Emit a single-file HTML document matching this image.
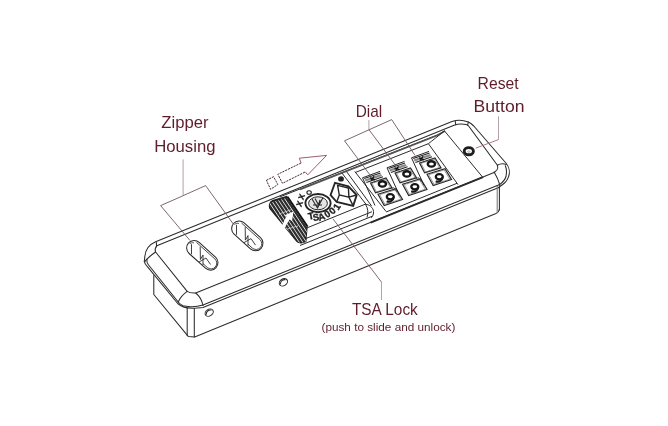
<!DOCTYPE html>
<html><head><meta charset="utf-8">
<style>
html,body{margin:0;padding:0;background:#fff;width:668px;height:426px;overflow:hidden}
svg{display:block;will-change:transform}
text{font-family:"Liberation Sans",sans-serif}
.lbl text{fill:#5f1c2b}
</style></head><body>
<svg width="668" height="426" viewBox="0 0 668 426">
<g fill="none" stroke="#2b2b2b" stroke-width="1.05" stroke-linejoin="round" stroke-linecap="round">
<path d="M144.3,261.3 L144.8,256.5 C145.3,250 149.5,244.5 155.6,241.8 L452,121.5 C457,119.8 463,119.9 468.3,122 C470.5,123 472,124.3 473.8,126 L506.3,163.5 C509.5,167.5 510,173 508.6,176.6 C507.5,179.5 506.5,181 505.4,182.2 C503.5,184.3 501,185.2 498.8,187.6"/>
<path d="M499.7,184.6 L203,305.0 C198,306.5 193,306.9 190.4,306.7 C187,306.4 184.5,306 183,305.7 C181,304.6 179.5,303.5 178.2,302 L148.2,264.5 C147,263 146.5,261.5 147,259.5"/>
<path d="M498.8,187.6 L203,307.5 C199,308 195,308.4 192.5,308.3 C186,308.2 181,306.5 177.7,303.5 L147.4,266.6 C145.8,265 144.6,263.2 144.3,261.3"/>
<path d="M156.8,245.8 L454,125.2 C458,123.8 462.5,123.6 466,124.6 C467.5,125 468.3,125.6 468.8,126.3 L497.4,165.3 C498,167 497.8,169 496.9,170 C496,171 495,171.6 494.1,172.6 L195.7,293 C192,293.2 189,292.8 187.2,291.4 L155.6,252 C154.8,250 155.3,247.5 156.8,245.8"/>
<path d="M156.3,242.2 L156.6,246"/>
<path d="M155.6,252 C152,254.5 148,257.5 145,261.3"/>
<path d="M187.2,291.4 C183.5,294 180,298 178.2,302"/>
<path d="M195.7,293 C199.5,296 202,300.5 203,305.5"/>
<path d="M455.2,121 L455.8,124.8"/>
<path d="M468.3,122 L467.6,125.3"/>
<path d="M497.4,165.3 C500,163.6 503.5,163.4 506.3,164.5"/>
<path d="M499.5,184.7 C502.5,182.5 505,180 506,176.5 C506.8,172.5 506.5,168.5 505.3,165.8"/>
<path d="M494.1,171.9 C496,175 498.5,180 499.7,184.6"/>
<path d="M153.8,275.5 L153.8,294.5 L188.2,336.4 L194.7,337 L496,213.4 C497.8,212.6 499,211.5 499.2,209.5"/>
<path d="M187.2,308.3 L187.2,335.5"/>
<path d="M194.3,308.6 L194.3,337"/>
<path d="M497.2,186.3 L497.2,212.8" stroke="#777"/>
<path d="M499.4,185.5 L499.4,210"/>
<ellipse cx="209.2" cy="312.6" rx="4.4" ry="3.3" transform="rotate(-33 209.2 312.6)"/>
<path d="M206.3,314.2 C206.1,311.6 208.6,309.6 211.1,310.0"/>
<ellipse cx="283.4" cy="282.3" rx="4.4" ry="3.3" transform="rotate(-33 283.4 282.3)"/>
<path d="M280.5,283.9 C280.3,281.3 282.8,279.3 285.3,279.7"/>
</g>
<g fill="none" stroke="#2b2b2b" stroke-width="1.05" stroke-linejoin="round">
<g transform="translate(202.3 255.3) rotate(42)">
<rect x="-18.5" y="-7.5" width="37" height="15" rx="7.5"/>
<path d="M-13,-5.7 L11.8,-5.7 A5.7,5.7 0 0 1 11.8,5.7 L6,5.7" stroke-width="0.8"/>
</g>
<path d="M191.5,244.2 L191.5,254.2 M200.2,246.6 L200.4,259.5 L203.0,255.0 L203.0,265.0 M199.0,262.0 L206.0,258.0 L210.5,264.5" stroke-width="0.9"/>
<path d="M189.5,244.0 C190.0,243.0 192.0,242.5 194.0,242.8" stroke-width="0.8"/>
<g transform="translate(247.3 235.9) rotate(42)">
<rect x="-18.5" y="-7.5" width="37" height="15" rx="7.5"/>
<path d="M-13,-5.7 L11.8,-5.7 A5.7,5.7 0 0 1 11.8,5.7 L6,5.7" stroke-width="0.8"/>
</g>
<path d="M236.5,224.8 L236.5,234.8 M245.2,227.2 L245.4,240.1 L248.0,235.6 L248.0,245.6 M244.0,242.6 L251.0,238.6 L255.5,245.1" stroke-width="0.9"/>
<path d="M234.5,224.6 C235.0,223.6 237.0,223.1 239.0,223.4" stroke-width="0.8"/>
</g>
<g fill="none" stroke="#2b2b2b" stroke-width="1" stroke-linejoin="round">
<path d="M279.6,197.0 L437,135.1 C440,134 442,132 445,130.7"/>
<path d="M300,189.4 L437,135.4 C440,134.5 442,132.5 445,131" stroke="#555" stroke-width="1.6"/>
<path d="M444.4,130.8 L483,177.6"/>
<path d="M428.4,143.7 C433,140 437,137 444,131.2"/>
<path d="M355,172.6 L428.4,143.7 L458,184.6"/>
<path d="M341.9,173 L366,204.3 C371,205 374,209 373.5,213 C373,216 372,217.5 371,218"/>
<path d="M365.5,204.3 C368,208 368.5,213 367,217.5"/>
<path d="M346.5,171.5 L371.6,206"/>
<path d="M354.8,171.5 L386.1,211.5"/>
<path d="M386.1,212.0 L457,183.3"/>
<path d="M307,227.9 L366,203.9"/>
<path d="M305.9,238.5 L372,211.7"/>
<path d="M300,245.5 L372,216.3"/>
<path d="M370.6,222.7 L483,177.1" stroke-width="1.9"/>
</g>
<defs><clipPath id="slc"><path d="M272.6,200.6 L286.7,196.4 L307.1,226.7 L305.9,241.5 L301.5,242.9 C299,243 297,242 295.8,240.1 L269.8,208.4 C268.5,206 269.5,202 272.6,200.6 Z"/></clipPath></defs>
<path d="M272.6,200.6 L286.7,196.4 L307.1,226.7 L305.9,241.5 L301.5,242.9 C299,243 297,242 295.8,240.1 L269.8,208.4 C268.5,206 269.5,202 272.6,200.6 Z" fill="#2e2e2e" stroke="#1e1e1e" stroke-width="1.1"/>
<g clip-path="url(#slc)">
<path d="M269.5,203.0 L300.7,249.8" stroke="#f0f0f0" stroke-width="0.9"/>
<path d="M272.5,202.1 L303.7,248.9" stroke="#f0f0f0" stroke-width="0.9"/>
<path d="M275.5,201.2 L306.7,248.0" stroke="#f0f0f0" stroke-width="0.9"/>
<path d="M278.5,200.3 L309.7,247.1" stroke="#f0f0f0" stroke-width="0.9"/>
<path d="M281.5,199.4 L312.7,246.2" stroke="#f0f0f0" stroke-width="0.9"/>
<path d="M284.5,198.5 L315.7,245.3" stroke="#f0f0f0" stroke-width="0.9"/>
<path d="M287.5,197.6 L318.7,244.4" stroke="#f0f0f0" stroke-width="0.9"/>
<path d="M279,214 L292,209.5 M284,230 L298,226" stroke="#d8d8d8" stroke-width="0.8"/>
</g>
<path d="M281.5,226.5 L286.5,216 L284,215.5 L293.5,211.5 L292,221 L289.5,219.5 L284.5,228 Z" fill="#fff"/>
<path d="M287.5,196.8 L307.5,226.5" stroke="#151515" stroke-width="2"/>
<g fill="none" stroke="#242424">
<ellipse cx="318" cy="203.1" rx="12.6" ry="9.1" stroke-width="1.9"/>
<ellipse cx="318" cy="203.3" rx="9.4" ry="6.5" stroke-width="1" fill="#e4e4e4"/>
<path d="M312,199 L317.5,208 L323,197.5 M315,198.5 L318,204 M320,200 L317.5,208 M313,205 L322,205" stroke-width="1.1"/>
<path d="M335,182.8 L348.4,186.3 L356.7,195 L353.2,205.9 L336.7,202 L330.6,195 Z" stroke-width="1.9"/>
<path d="M337.6,185.4 L339.3,195 L348.9,197.2 L348.4,188 Z M339.3,195 L336.7,202 M348.9,197.2 L353.2,205.9 M348.9,197.2 L356.7,195" stroke-width="1.4"/>
</g>
<ellipse cx="341" cy="178.9" rx="2.9" ry="2.6" fill="#222"/>
<text x="0" y="3" font-size="9.6" font-weight="bold" text-anchor="middle" transform="translate(311.0 216.3) rotate(-12)" style="fill:#1e1e1e;stroke:#1e1e1e;stroke-width:0.35">T</text>
<text x="0" y="3" font-size="9.6" font-weight="bold" text-anchor="middle" transform="translate(316.0 217.6) rotate(-8)" style="fill:#1e1e1e;stroke:#1e1e1e;stroke-width:0.35">S</text>
<text x="0" y="3" font-size="9.6" font-weight="bold" text-anchor="middle" transform="translate(321.6 217.0) rotate(-18)" style="fill:#1e1e1e;stroke:#1e1e1e;stroke-width:0.35">A</text>
<text x="0" y="3" font-size="9.6" font-weight="bold" text-anchor="middle" transform="translate(327.4 214.3) rotate(-32)" style="fill:#1e1e1e;stroke:#1e1e1e;stroke-width:0.35">0</text>
<text x="0" y="3" font-size="9.6" font-weight="bold" text-anchor="middle" transform="translate(332.6 211.0) rotate(-42)" style="fill:#1e1e1e;stroke:#1e1e1e;stroke-width:0.35">0</text>
<text x="0" y="3" font-size="9.6" font-weight="bold" text-anchor="middle" transform="translate(337.0 207.0) rotate(-58)" style="fill:#1e1e1e;stroke:#1e1e1e;stroke-width:0.35">1</text>
<text x="0" y="2.5" font-size="8" font-weight="bold" text-anchor="middle" transform="translate(299.7 203.8) rotate(-70)" style="fill:#1e1e1e;stroke:#1e1e1e;stroke-width:0.3">X</text>
<text x="0" y="2.5" font-size="8" font-weight="bold" text-anchor="middle" transform="translate(301.8 197.0) rotate(-70)" style="fill:#1e1e1e;stroke:#1e1e1e;stroke-width:0.3">X</text>
<ellipse cx="309.1" cy="192.5" rx="2.2" ry="1.8" fill="none" stroke="#1e1e1e" stroke-width="1.1"/>
<path d="M380.0,171.4 L362.5,177.8 L375.0,205.5" fill="none" stroke="#262626" stroke-width="1"/>
<path d="M364.2,178.6 L380.5,173.1 M366.4,182.6 L383.0,176.8" fill="none" stroke="#262626" stroke-width="1.1"/>
<path d="M364.6,179.6 L380.8,174.1 L382.2,176.0 L365.8,181.6 Z" fill="#8a8a8a" stroke="none"/>
<path d="M370.0,177.8 L375.0,179.8 M374.0,176.4 L371.0,180.6" stroke="#111" stroke-width="1.3"/>
<path d="M370.6,183.0 L386.0,178.0 L392.0,187.8 L375.6,192.9 Z" fill="none" stroke="#262626" stroke-width="1.2"/>
<path d="M372.1,183.3 L385.3,179.0 L390.5,187.5 L376.4,191.9 Z" fill="none" stroke="#555" stroke-width="0.6"/>
<path d="M378.0,194.2 L396.0,188.8 L402.5,199.5 L384.2,205.6 Z" fill="none" stroke="#262626" stroke-width="1.2"/>
<path d="M379.7,194.6 L395.2,190.0 L400.8,199.2 L385.0,204.4 Z" fill="none" stroke="#555" stroke-width="0.6"/>
<ellipse cx="382.4" cy="183.9" rx="3.6" ry="2.7" fill="none" stroke="#161616" stroke-width="2.4"/>
<ellipse cx="390.3" cy="196.8" rx="3.5" ry="2.6" fill="none" stroke="#161616" stroke-width="2.3"/>
<path d="M393.7,197.1 C393.3,201.1 389.3,202.4 386.7,201.2" fill="none" stroke="#161616" stroke-width="2.1"/>
<path d="M391.5,188.5 L394.0,187.7 L397.0,192.0" fill="none" stroke="#333" stroke-width="0.8"/>
<path d="M404.5,161.4 L387.0,167.8 L399.5,195.5" fill="none" stroke="#262626" stroke-width="1"/>
<path d="M388.7,168.6 L405.0,163.1 M390.9,172.6 L407.5,166.8" fill="none" stroke="#262626" stroke-width="1.1"/>
<path d="M389.1,169.6 L405.3,164.1 L406.7,166.0 L390.3,171.6 Z" fill="#8a8a8a" stroke="none"/>
<path d="M394.5,167.8 L399.5,169.8 M398.5,166.4 L395.5,170.6" stroke="#111" stroke-width="1.3"/>
<path d="M395.1,173.0 L410.5,168.0 L416.5,177.8 L400.1,182.9 Z" fill="none" stroke="#262626" stroke-width="1.2"/>
<path d="M396.6,173.3 L409.8,169.0 L415.0,177.5 L400.9,181.9 Z" fill="none" stroke="#555" stroke-width="0.6"/>
<path d="M402.5,184.2 L420.5,178.8 L427.0,189.5 L408.7,195.6 Z" fill="none" stroke="#262626" stroke-width="1.2"/>
<path d="M404.2,184.6 L419.7,180.0 L425.3,189.2 L409.5,194.4 Z" fill="none" stroke="#555" stroke-width="0.6"/>
<ellipse cx="406.9" cy="173.9" rx="3.6" ry="2.7" fill="none" stroke="#161616" stroke-width="2.4"/>
<ellipse cx="414.8" cy="186.8" rx="3.5" ry="2.6" fill="none" stroke="#161616" stroke-width="2.3"/>
<path d="M418.2,187.1 C417.8,191.1 413.8,192.4 411.2,191.2" fill="none" stroke="#161616" stroke-width="2.1"/>
<path d="M416.0,178.5 L418.5,177.7 L421.5,182.0" fill="none" stroke="#333" stroke-width="0.8"/>
<path d="M429.0,151.4 L411.5,157.8 L424.0,185.5" fill="none" stroke="#262626" stroke-width="1"/>
<path d="M413.2,158.6 L429.5,153.1 M415.4,162.6 L432.0,156.8" fill="none" stroke="#262626" stroke-width="1.1"/>
<path d="M413.6,159.6 L429.8,154.1 L431.2,156.0 L414.8,161.6 Z" fill="#8a8a8a" stroke="none"/>
<path d="M419.0,157.8 L424.0,159.8 M423.0,156.4 L420.0,160.6" stroke="#111" stroke-width="1.3"/>
<path d="M419.6,163.0 L435.0,158.0 L441.0,167.8 L424.6,172.9 Z" fill="none" stroke="#262626" stroke-width="1.2"/>
<path d="M421.1,163.3 L434.3,159.0 L439.5,167.5 L425.4,171.9 Z" fill="none" stroke="#555" stroke-width="0.6"/>
<path d="M427.0,174.2 L445.0,168.8 L451.5,179.5 L433.2,185.6 Z" fill="none" stroke="#262626" stroke-width="1.2"/>
<path d="M428.7,174.6 L444.2,170.0 L449.8,179.2 L434.0,184.4 Z" fill="none" stroke="#555" stroke-width="0.6"/>
<ellipse cx="431.4" cy="163.9" rx="3.6" ry="2.7" fill="none" stroke="#161616" stroke-width="2.4"/>
<ellipse cx="439.3" cy="176.8" rx="3.5" ry="2.6" fill="none" stroke="#161616" stroke-width="2.3"/>
<path d="M442.7,177.1 C442.3,181.1 438.3,182.4 435.7,181.2" fill="none" stroke="#161616" stroke-width="2.1"/>
<g fill="none" stroke="#1e1e1e">
<ellipse cx="468.8" cy="151.2" rx="4.6" ry="3.6" stroke-width="2.9" fill="#fff"/>
<ellipse cx="468.8" cy="151.6" rx="1.2" ry="0.8" stroke-width="0.6" stroke="#888"/>
</g>
<g fill="none" stroke="#b4a0a6" stroke-width="1">
<path d="M183.1,159.4 L183.1,195.1"/>
<path d="M368.9,120.1 L368.9,129.5"/>
<path d="M498.5,116.3 L498.5,139.6"/>
<path d="M381.5,300 L381.5,282.1"/>
</g>
<g fill="none" stroke="#6e5860" stroke-width="0.9">
<path d="M175,199.3 L205.6,185.6 L233.3,224 M160.6,205.6 L175,199.3 M160.6,205.6 L189.9,240.4"/>
<path d="M344.5,140.8 L391.7,119.6 L415,155.4 M344.5,140.8 L371.7,177.3 M368.9,129.5 L396,166"/>
</g>
<path d="M498.5,139.6 L475.6,148.2" fill="none" stroke="#a86a78" stroke-width="0.9"/>
<path d="M381.5,282.1 L332.9,218.8" fill="none" stroke="#7a5860" stroke-width="0.9"/>
<g fill="none" stroke-width="1" stroke-linejoin="miter">
<path d="M266.4,180.3 L273.6,176.7 L277.8,184.5 L270.6,189.3 Z" stroke="#4a2a34" stroke-dasharray="2.2 0.9"/>
<path d="M301.1,163 L277.8,174.3 L282.5,183.3 L305.3,171.9" stroke="#4a2a34" stroke-dasharray="2.2 0.9"/>
<path d="M301.1,163 L299.3,158.2 L326.6,155.4 L307.7,174.9 L305.3,171.9" stroke="#a05a6c"/>
</g>
<g class="lbl"><text x="161.3" y="128.4" font-size="16.2" textLength="47.2" lengthAdjust="spacingAndGlyphs">Zipper</text>
<text x="154.2" y="151.7" font-size="16.2" textLength="61.3" lengthAdjust="spacingAndGlyphs">Housing</text>
<text x="355.7" y="116.5" font-size="16.2" textLength="26.5" lengthAdjust="spacingAndGlyphs">Dial</text>
<text x="477.6" y="88.8" font-size="16.2" textLength="41" lengthAdjust="spacingAndGlyphs">Reset</text>
<text x="473.6" y="112.3" font-size="16.2" textLength="50.9" lengthAdjust="spacingAndGlyphs">Button</text>
<text x="351.9" y="314.5" font-size="16.2" textLength="65.9" lengthAdjust="spacingAndGlyphs">TSA Lock</text>
<text x="321.5" y="331.2" font-size="10.8" textLength="133.9" lengthAdjust="spacingAndGlyphs">(push to slide and unlock)</text></g>
</svg>
</body></html>
